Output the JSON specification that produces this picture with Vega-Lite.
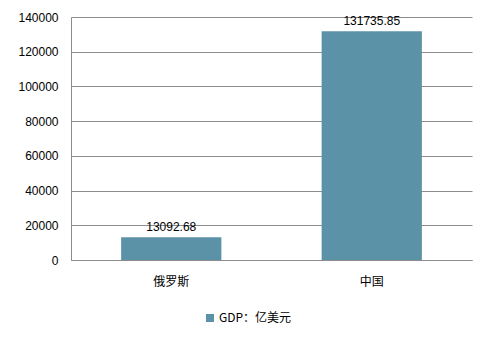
{
  "$schema": "https://vega.github.io/schema/vega-lite/v6.json",
  "autosize": "none",
  "width": 401,
  "height": 243,
  "padding": {"left": 71, "top": 17, "right": 20, "bottom": 82},
  "background": "white",
  "data": {
    "values": [
      {"country": "俄罗斯", "gdp": 13092.68, "series": "GDP：亿美元", "label": "13092.68"},
      {"country": "中国", "gdp": 131735.85, "series": "GDP：亿美元", "label": "131735.85"}
    ]
  },
  "config": {
    "view": {"stroke": null},
    "font": "Liberation Sans",
    "axis": {
      "labelColor": "#000000",
      "labelFontSize": 12,
      "domainColor": "#8c8c8c",
      "gridColor": "#8c8c8c",
      "ticks": false,
      "title": null
    }
  },
  "encoding": {
    "x": {
      "field": "country",
      "type": "nominal",
      "sort": null,
      "scale": {"paddingInner": 0.5, "paddingOuter": 0.25},
      "axis": {
        "labelAngle": 0,
        "labelPadding": 16,
        "labelFont": "Noto Sans CJK SC",
        "grid": false,
        "domain": true
      }
    },
    "y": {
      "field": "gdp",
      "type": "quantitative",
      "scale": {"domain": [0, 140000]},
      "axis": {
        "values": [0, 20000, 40000, 60000, 80000, 100000, 120000, 140000],
        "labelPadding": 13,
        "labelExpr": "datum.value",
        "grid": true,
        "domain": true
      }
    }
  },
  "layer": [
    {
      "mark": {"type": "bar"},
      "encoding": {
        "color": {
          "field": "series",
          "type": "nominal",
          "scale": {"range": ["#5b92a7"]},
          "legend": {
            "title": null,
            "orient": "none",
            "legendX": 133,
            "legendY": 295,
            "symbolType": "square",
            "symbolSize": 64,
            "labelFontSize": 12,
            "labelFont": "Noto Sans CJK SC",
            "labelColor": "#000000",
            "labelOffset": 3
          }
        }
      }
    },
    {
      "mark": {"type": "text", "baseline": "bottom", "dy": -3, "fontSize": 12, "color": "#000000"},
      "encoding": {"text": {"field": "label"}}
    }
  ]
}
